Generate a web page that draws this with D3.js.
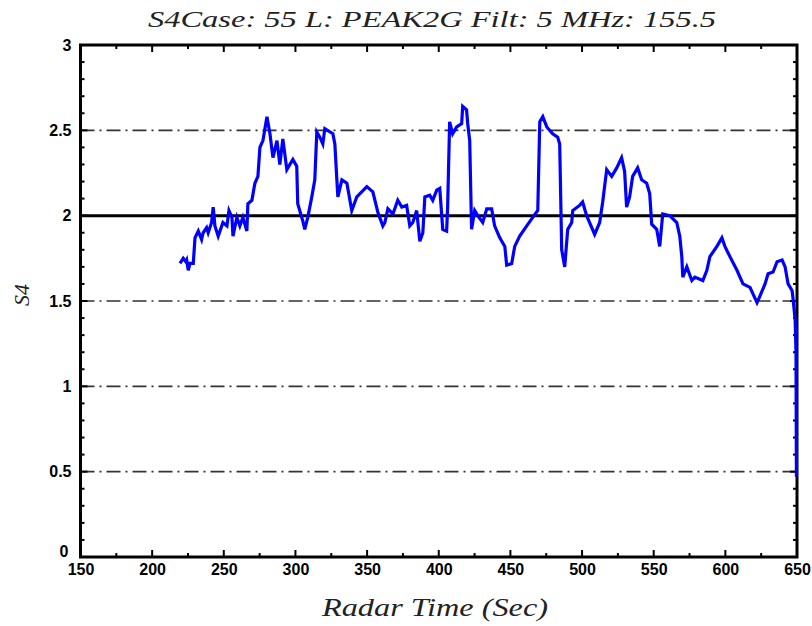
<!DOCTYPE html>
<html><head><meta charset="utf-8">
<script src="https://cdn.jsdelivr.net/npm/d3@7"></script>
<style>body{margin:0;background:#fff;}svg{display:block;}</style>
</head><body>
<svg id="chart" width="812" height="626"></svg>
<script>
const titleText = "S4Case: 55 L: PEAK2G Filt: 5 MHz: 155.5";
const xLabel = "Radar Time (Sec)";
const yLabel = "S4";
const xTicks = [150,200,250,300,350,400,450,500,550,600,650];
const yTicks = [0,0.5,1,1.5,2,2.5,3];
const yTickLabels = ["0","0.5","1","1.5","2","2.5","3"];
const dashedLevels = [0.5,1,1.5,2.5];
const solidLevel = 2;
const timeSec = [219.4,221.7,223.5,224.1,225.2,226.4,228.7,229.9,232.2,234.5,235.6,238.0,239.1,241.5,242.6,243.8,246.1,249.4,252.2,253.6,255.7,256.4,259.1,261.2,263.3,266.1,266.8,269.6,271.7,273.8,275.2,277.3,280.1,282.2,284.3,287.1,289.1,291.2,294.0,298.2,300.9,301.6,305.1,306.5,308.6,311.4,313.5,314.9,317.0,319.1,320.5,326.1,327.5,328.9,329.6,332.4,335.9,339.3,342.8,349.8,354.0,357.5,361.0,362.4,364.5,368.0,371.4,374.2,377.6,379.8,381.9,384.6,386.8,388.9,390.3,393.7,395.8,398.6,400.7,402.8,405.5,406.2,407.6,409.7,412.5,416.0,416.7,419.4,420.2,421.6,422.9,425.1,427.2,430.7,433.5,436.9,439.0,442.6,446.1,447.4,450.9,453.0,456.5,461.4,465.6,469.1,470.5,472.6,475.4,479.5,483.0,484.4,485.8,487.9,490.0,492.8,493.5,498.3,500.4,503.2,508.8,512.3,514.4,517.2,520.7,524.2,527.6,529.7,531.1,533.2,535.3,538.8,541.6,545.1,547.2,548.6,552.1,554.2,556.3,561.2,566.1,568.2,569.6,570.3,573.1,576.6,578.7,584.3,587.1,589.2,594.1,597.6,599.7,603.2,608.1,612.3,617.2,622.1,624.2,627.7,629.8,633.3,636.1,639.6,641.7,643.8,646.6,647.3,648.7,649.3,649.6];
const s4Values = [1.72,1.75,1.73,1.74,1.68,1.72,1.72,1.87,1.91,1.86,1.90,1.93,1.90,1.96,2.05,1.94,1.88,1.96,1.94,2.03,1.99,1.88,1.99,1.94,1.99,1.91,2.07,2.09,2.19,2.23,2.40,2.44,2.58,2.48,2.34,2.44,2.30,2.45,2.27,2.33,2.29,2.07,1.97,1.92,1.99,2.11,2.21,2.49,2.46,2.42,2.51,2.48,2.42,2.21,2.11,2.21,2.19,2.03,2.11,2.17,2.14,2.02,1.94,1.96,2.04,2.01,2.09,2.05,2.06,1.94,1.96,2.03,1.85,1.90,2.11,2.12,2.09,2.15,2.16,1.92,1.91,2.05,2.55,2.48,2.52,2.54,2.64,2.62,2.54,2.44,1.92,2.03,2.00,1.96,2.04,2.04,1.94,1.87,1.82,1.71,1.72,1.82,1.88,1.94,1.99,2.03,2.55,2.58,2.52,2.48,2.46,2.42,1.80,1.70,1.92,1.96,2.03,2.06,2.08,2.00,1.89,1.96,2.08,2.27,2.23,2.28,2.34,2.26,2.05,2.11,2.23,2.28,2.21,2.19,2.13,1.95,1.92,1.82,2.01,2.00,1.96,1.88,1.76,1.64,1.70,1.62,1.64,1.62,1.68,1.76,1.82,1.87,1.82,1.76,1.68,1.60,1.58,1.49,1.53,1.60,1.66,1.67,1.73,1.74,1.70,1.60,1.56,1.51,1.39,1.20,0.47];

const svg = d3.select("#chart");
const L = 80.5, R = 797, T = 45, B = 557;
const x = d3.scaleLinear().domain([150,650]).range([L,R]);
const y = d3.scaleLinear().domain([0,3]).range([B,T]);

// gridlines
svg.append("g").selectAll("line").data(dashedLevels).join("line")
  .attr("x1",L).attr("x2",R).attr("y1",d=>y(d)).attr("y2",d=>y(d))
  .attr("stroke","#333").attr("stroke-width",1.6).attr("stroke-dasharray","14,5,2,5");
svg.append("line").attr("x1",L).attr("x2",R).attr("y1",y(solidLevel)).attr("y2",y(solidLevel))
  .attr("stroke","#000").attr("stroke-width",3);

// ticks
const xMinor = d3.range(150,651,25);
const yMinor = d3.range(0,3.001,0.1);
const tg = svg.append("g").attr("stroke","#000").attr("stroke-width",2);
xMinor.forEach(v=>{
  const major = v%50===0;
  const len = major?7:4;
  tg.append("line").attr("x1",x(v)).attr("x2",x(v)).attr("y1",B).attr("y2",B-len);
  tg.append("line").attr("x1",x(v)).attr("x2",x(v)).attr("y1",T).attr("y2",T+len);
});
yMinor.forEach(v=>{
  const major = Math.abs(v*2-Math.round(v*2))<1e-6;
  const len = major?7:4;
  tg.append("line").attr("y1",y(v)).attr("y2",y(v)).attr("x1",L).attr("x2",L+len);
  tg.append("line").attr("y1",y(v)).attr("y2",y(v)).attr("x1",R).attr("x2",R-len);
});

// axis labels via d3 axes
const xAxis = d3.axisBottom(x).tickValues(xTicks).tickSize(0).tickPadding(7).tickFormat(d3.format("d"));
const gx = svg.append("g").attr("transform",`translate(0,${B})`).call(xAxis);
gx.select(".domain").remove();
gx.selectAll("text").attr("font-family","'Liberation Sans', Arial, sans-serif").attr("font-weight","bold")
  .attr("font-size","16px").attr("fill","#000");
const yAxis = d3.axisLeft(y).tickValues(yTicks).tickSize(0).tickPadding(9).tickFormat((d,i)=>yTickLabels[i]);
const gy = svg.append("g").attr("transform",`translate(${L},0)`).call(yAxis);
gy.select(".domain").remove();
gy.selectAll("text").attr("font-family","'Liberation Sans', Arial, sans-serif").attr("font-weight","bold")
  .attr("font-size","16px").attr("fill","#000");
gy.selectAll(".tick").filter(d=>d===0).select("text").attr("dy","-0.05em").attr("x",-12);

// frame
svg.append("rect").attr("x",L).attr("y",T).attr("width",R-L).attr("height",B-T)
  .attr("fill","none").attr("stroke","#000").attr("stroke-width",3);

// data line (drawn over the frame, as in the reference)
const pts = timeSec.map((t,i)=>[t,s4Values[i]]);
svg.append("path").datum(pts)
  .attr("d", d3.line().x(d=>x(d[0])).y(d=>y(d[1])).curve(d3.curveLinear))
  .attr("fill","none").attr("stroke","#0000ff").attr("stroke-width",3.2).attr("stroke-linejoin","miter");

// titles
svg.append("text").attr("x",432).attr("y",27).attr("text-anchor","middle")
  .attr("font-family","'Liberation Serif', 'Times New Roman', serif").attr("font-style","italic")
  .attr("font-size","24px").attr("fill","#222")
  .attr("textLength",568).attr("lengthAdjust","spacingAndGlyphs").text(titleText);
svg.append("text").attr("x",435).attr("y",616).attr("text-anchor","middle")
  .attr("font-family","'Liberation Serif', 'Times New Roman', serif").attr("font-style","italic")
  .attr("font-size","25px").attr("fill","#222")
  .attr("textLength",226).attr("lengthAdjust","spacingAndGlyphs").text(xLabel);
svg.append("text").attr("transform","translate(29,295) rotate(-90)").attr("text-anchor","middle")
  .attr("font-family","'Liberation Serif', 'Times New Roman', serif").attr("font-style","italic")
  .attr("font-size","22px").attr("fill","#222").text(yLabel);
</script>
</body></html>
